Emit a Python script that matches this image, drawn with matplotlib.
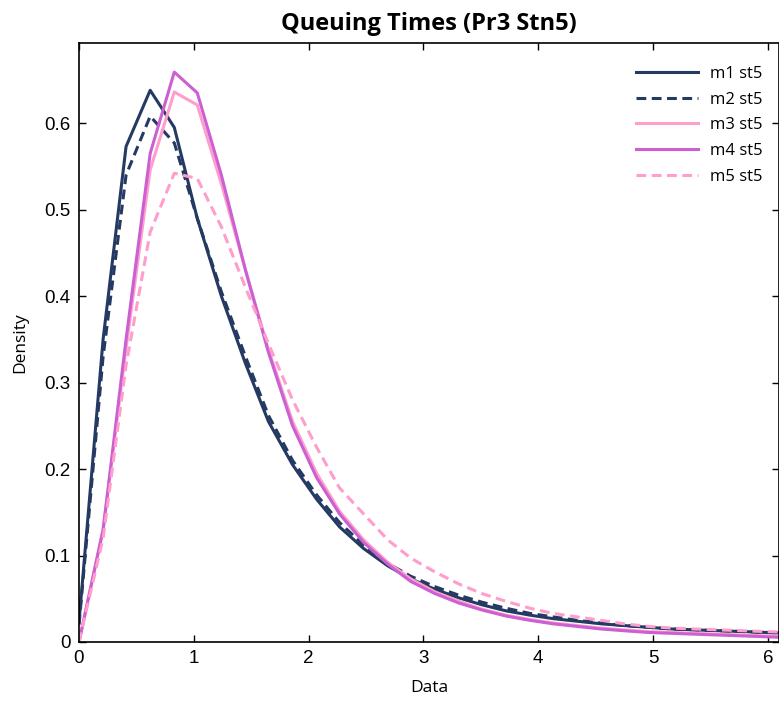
import matplotlib.pyplot as plt

# x grid of the density estimate
x = [0.00, 0.21, 0.41, 0.62, 0.83, 1.03, 1.24, 1.45, 1.65, 1.86,
     2.07, 2.27, 2.48, 2.69, 2.89, 3.10, 3.31, 3.51, 3.72, 3.93,
     4.13, 4.34, 4.55, 4.75, 4.96, 5.17, 5.37, 5.58, 5.79, 5.99, 6.20]

m1 = [0.023, 0.350, 0.573, 0.638, 0.595, 0.490, 0.400, 0.322, 0.255, 0.205,
      0.165, 0.133, 0.108, 0.088, 0.073, 0.061, 0.051, 0.043, 0.036, 0.031,
      0.027, 0.024, 0.021, 0.019, 0.017, 0.015, 0.014, 0.013, 0.012, 0.011, 0.010]
m2 = [0.020, 0.330, 0.540, 0.608, 0.577, 0.490, 0.405, 0.330, 0.262, 0.210,
      0.170, 0.138, 0.112, 0.091, 0.076, 0.064, 0.054, 0.046, 0.039, 0.033,
      0.029, 0.025, 0.022, 0.019, 0.017, 0.015, 0.014, 0.013, 0.012, 0.011, 0.010]
m3 = [0.000, 0.130, 0.340, 0.546, 0.636, 0.621, 0.530, 0.430, 0.338, 0.255,
      0.195, 0.151, 0.118, 0.092, 0.073, 0.058, 0.047, 0.038, 0.031, 0.026,
      0.022, 0.019, 0.016, 0.014, 0.012, 0.011, 0.010, 0.009, 0.008, 0.007, 0.006]
m4 = [0.000, 0.130, 0.350, 0.565, 0.659, 0.635, 0.540, 0.430, 0.335, 0.250,
      0.190, 0.148, 0.115, 0.090, 0.070, 0.056, 0.045, 0.037, 0.030, 0.025,
      0.021, 0.018, 0.015, 0.013, 0.011, 0.010, 0.009, 0.008, 0.007, 0.006, 0.005]
m5 = [0.000, 0.120, 0.320, 0.474, 0.542, 0.536, 0.480, 0.410, 0.345, 0.280,
      0.225, 0.178, 0.148, 0.118, 0.097, 0.081, 0.067, 0.056, 0.047, 0.039,
      0.033, 0.029, 0.025, 0.021, 0.018, 0.016, 0.015, 0.014, 0.013, 0.012, 0.011]

SERIES = [
    ("m1 st5", m1, "#243a62", "-"),
    ("m2 st5", m2, "#243a62", "--"),
    ("m3 st5", m3, "#ff9dcc", "-"),
    ("m4 st5", m4, "#cc5fd2", "-"),
    ("m5 st5", m5, "#ff9dcc", "--"),
]

fig = plt.figure(figsize=(7.79, 7.04), dpi=100)
ax = fig.add_axes([79 / 779, 1 - 642 / 704, 1 - 79 / 779, (642 - 42.7) / 704])

for label, y, color, ls in SERIES:
    ax.plot(x, y, color=color, linestyle=ls, linewidth=2.2, label=label,
            dashes=(3.2, 1.8) if ls == "--" else (None, None))

ax.set_xlim(0, 6.097)
ax.set_ylim(0, 0.693)
ax.set_xticks(range(0, 7))
ax.set_yticks([0, 0.1, 0.2, 0.3, 0.4, 0.5, 0.6])
ax.set_yticklabels(["0", "0.1", "0.2", "0.3", "0.4", "0.5", "0.6"])
ax.tick_params(direction="in", length=5, width=1, top=True, right=True,
               labelsize=13.5, pad=6)
for lab in ax.get_xticklabels() + ax.get_yticklabels():
    lab.set_family("Liberation Sans")
for sp in ax.spines.values():
    sp.set_linewidth(1.2)

ax.set_xlabel("Data", family="Open Sans", fontsize=12.5, labelpad=9)
ax.set_ylabel("Density", family="Open Sans", fontsize=12.5, labelpad=12)
ax.set_title("Queuing Times (Pr3 Stn5)", family="Open Sans", fontweight="bold",
             fontsize=17, pad=9)

ax.legend(loc="upper right", bbox_to_anchor=(1.012, 1.003), frameon=False,
          prop={"family": "Open Sans", "size": 12},
          handlelength=3.7, handletextpad=0.7, labelspacing=0.58, borderaxespad=1.1)

fig.savefig("out.png", dpi=100)
